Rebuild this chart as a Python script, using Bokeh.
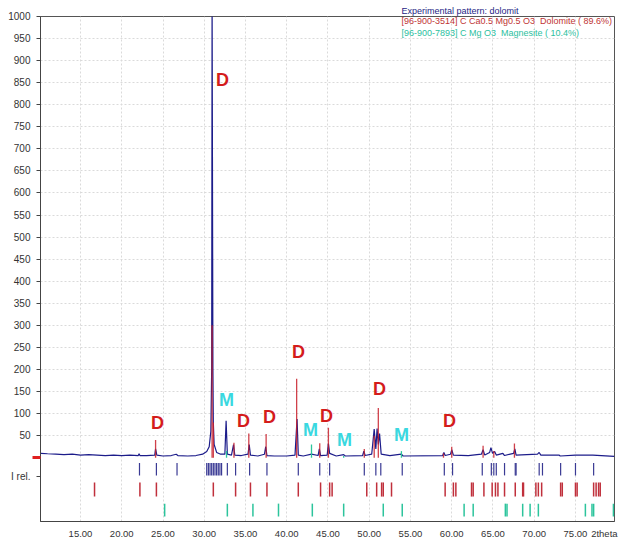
from bokeh.plotting import figure
from bokeh.models import FixedTicker, Label, Range1d, PrintfTickFormatter, ColumnDataSource
from bokeh.embed import file_html
from bokeh.resources import INLINE
from bokeh.core.properties import value

# ---------------- data ----------------
# experimental pattern (2theta, counts)
exp_x = [10.2, 11.0, 12.0, 13.0, 14.0, 15.0, 16.0, 17.0, 18.0, 19.0, 20.0, 21.0, 22.0, 22.1, 22.2,
         23.0, 24.0, 24.1, 24.25, 25.0, 26.0, 26.6, 26.8, 28.0, 29.0, 29.8, 30.3, 30.6, 30.8, 30.9,
         30.95, 31.05, 31.1, 31.2, 31.5, 32.0, 32.5, 32.65, 32.8, 33.3, 33.55, 33.7, 34.5, 35.3,
         35.45, 35.6, 36.5, 37.3, 37.45, 37.6, 38.5, 40.0, 41.0, 41.25, 41.4, 42.0, 43.0, 43.8,
         43.95, 44.1, 44.9, 45.05, 45.2, 46.0, 46.9, 47.1, 49.2, 49.35, 49.5, 50.3, 50.6, 50.8,
         50.95, 51.1, 51.25, 51.45, 52.5, 53.9, 54.1, 58.9, 59.05, 59.2, 59.85, 60.0, 60.2, 62.0,
         63.6, 63.8, 64.0, 64.6, 64.75, 64.95, 65.2, 65.4, 66.2, 66.4, 67.5, 67.65, 67.8, 70.4,
         70.6, 70.8, 73.0, 73.15, 75.0, 77.1, 79.7]
exp_y = [10, 9, 8, 7, 8, 6, 7, 6, 5, 6, 5, 6, 5, 9, 5,
         5, 6, 20, 6, 4, 5, 8, 5, 4, 5, 8, 14, 25, 60, 200,
         1050, 200, 80, 30, 12, 8, 8, 84, 8, 6, 30, 6, 5, 8,
         30, 6, 4, 8, 25, 5, 4, 4, 6, 88, 6, 4, 8, 5,
         20, 5, 6, 32, 10, 4, 7, 4, 5, 15, 5, 8, 65, 20,
         66, 30, 55, 8, 5, 8, 4, 5, 12, 5, 8, 18, 6, 5,
         8, 18, 6, 12, 23, 10, 14, 6, 10, 5, 10, 20, 6, 8,
         12, 6, 6, 4, 6, 6, 3]

# calculated dolomite peaks (position, intensity)
dol_pk_x = [24.1, 30.95, 31.1, 33.6, 35.4, 37.5, 41.2, 44.0, 45.05, 49.4, 50.6, 51.1, 59.0, 60.0,
            63.8, 65.1, 67.6]
dol_pk_y = [40, 300, 80, 34, 55, 54, 179, 33, 68, 20, 50, 113, 10, 25, 27, 15, 32]
# calculated magnesite peaks
mag_pk_x = [32.7, 43.0, 46.9, 53.9]
mag_pk_y = [15, 30, 4, 15]

# reflection positions (tick rows)
exp_lines = [22.15, 24.2, 26.7, 30.3, 30.5, 30.7, 30.9, 31.1, 31.3, 31.5, 31.7, 31.9, 32.1, 32.8,
             33.8, 35.5, 37.6, 41.4, 44.0, 45.2, 49.4, 50.8, 51.4, 54.0, 59.1, 60.1, 63.7, 64.8,
             65.1, 65.4, 66.4, 67.7, 67.8, 70.6, 71.0, 73.2, 75.0, 77.2]
dol_lines = [16.7, 22.2, 24.2, 31.1, 33.8, 35.6, 37.6, 41.4, 44.1, 45.2, 45.5, 49.7, 50.9, 51.5,
             51.7, 52.7, 59.2, 60.2, 60.5, 62.4, 62.6, 63.9, 64.9, 65.3, 65.6, 66.4, 67.7, 68.6,
             68.7, 70.2, 70.5, 70.9, 73.2, 73.4, 75.0, 75.2, 77.2, 77.5, 77.8, 78.0]
mag_lines = [25.2, 32.8, 35.9, 39.0, 43.1, 46.9, 51.7, 54.0, 61.5, 62.6, 66.5, 66.7, 68.6, 69.5,
             70.5, 76.2, 77.0, 77.2, 79.6]

# peak annotations
ann_text = ["D", "D", "M", "D", "D", "D", "M", "D", "M", "D", "M", "D"]
ann_x = [32.21, 24.33, 32.70, 34.76, 37.91, 41.42, 42.88, 44.82, 47.0, 51.24, 53.91, 59.73]
ann_y = [855, 79, 131, 84, 93, 240, 63, 95, 41, 156, 52, 84]

legend_lines = ["Experimental pattern: dolomit",
                "[96-900-3514] C Ca0.5 Mg0.5 O3 \u00a0Dolomite ( 89.6%)",
                "[96-900-7893] C Mg O3 \u00a0Magnesite ( 10.4%)"]

x_ticks = [15, 20, 25, 30, 35, 40, 45, 50, 55, 60, 65, 70, 75]
x_unit_pos = 78.5
x_unit_label = "2theta"
y_ticks = list(range(50, 1001, 50))
y_rel_pos = -43
y_rel_label = "I rel."

# ---------------- styles ----------------
C_EXP = "#1c1c8a"
C_DOL = "#c8202c"
C_MAG = "#2cc49c"
C_D = "#d41c1c"
C_M = "#3ad8e0"
FONT = "Liberation Sans"

p = figure(width=620, height=541, output_backend="svg", toolbar_location=None,
           x_range=Range1d(10.15, 79.73), y_range=Range1d(-144.5, 1000),
           min_border_left=40, min_border_right=6, min_border_top=16, min_border_bottom=19)
p.background_fill_color = "white"
p.border_fill_color = "white"
p.outline_line_color = "#555555"

# title used as first legend line (sits above the frame)
p.title.text = legend_lines[0]
p.title.align = "left"
p.title.offset = 361
p.title.standoff = 1
p.title.text_font = FONT
p.title.text_font_style = "normal"
p.title.text_font_size = "9px"
p.title.text_color = "#1e1e86"

# ticks / grid
p.xaxis.ticker = FixedTicker(ticks=x_ticks + [x_unit_pos])
p.yaxis.ticker = FixedTicker(ticks=[y_rel_pos] + y_ticks, minor_ticks=[0])
p.xgrid.ticker = FixedTicker(ticks=x_ticks)
p.ygrid.ticker = FixedTicker(ticks=y_ticks)
for g in (p.xgrid, p.ygrid):
    g.grid_line_color = "#dadada"
    g.grid_line_dash = "2 2"
    g.grid_line_width = 1

# axes
p.xaxis.formatter = PrintfTickFormatter(format="%.2f")
p.xaxis.major_label_overrides = {x_unit_pos: x_unit_label}
p.yaxis.major_label_overrides = {y_rel_pos: y_rel_label}
for ax in (p.xaxis, p.yaxis):
    ax.axis_line_color = "#444444"
    ax.major_tick_line_color = "#444444"
    ax.major_label_text_color = "#333333"
    ax.major_label_text_font = FONT
p.xaxis.major_label_text_font_size = "9.5px"
p.yaxis.major_label_text_font_size = "10px"
p.xaxis.minor_tick_line_color = None
p.xaxis.major_tick_out = 0
p.xaxis.major_tick_in = 0
p.xaxis.major_label_standoff = 6
p.yaxis.major_tick_out = 4
p.yaxis.major_tick_in = 0
p.yaxis.major_label_standoff = 2
p.yaxis.minor_tick_line_color = "#e02020"
p.yaxis.minor_tick_line_width = 3
p.yaxis.minor_tick_out = 8
p.yaxis.minor_tick_in = 0

# reflection tick rows
p.segment(x0=exp_lines, y0=[-12] * len(exp_lines), x1=exp_lines, y1=[-40] * len(exp_lines),
          line_color="#3a3a94", line_width=1.2)
p.segment(x0=dol_lines, y0=[-56] * len(dol_lines), x1=dol_lines, y1=[-88] * len(dol_lines),
          line_color="#c0303c", line_width=1.5)
p.segment(x0=mag_lines, y0=[-104] * len(mag_lines), x1=mag_lines, y1=[-133] * len(mag_lines),
          line_color=C_MAG, line_width=1.5)

# experimental pattern
p.line(exp_x, exp_y, line_color=C_EXP, line_width=1.2)
# calculated phase peaks
p.segment(x0=dol_pk_x, y0=[0] * len(dol_pk_x), x1=dol_pk_x, y1=dol_pk_y,
          line_color=C_DOL, line_width=1.3, line_alpha=0.85)
p.segment(x0=mag_pk_x, y0=[0] * len(mag_pk_x), x1=mag_pk_x, y1=mag_pk_y,
          line_color=C_MAG, line_width=1.3)

# annotations D / M
src = ColumnDataSource(dict(x=ann_x, y=ann_y, t=ann_text,
                            c=[C_D if t == "D" else C_M for t in ann_text]))
p.text(x="x", y="y", text="t", source=src, text_color="c", text_font=value(FONT),
       text_font_style="bold", text_font_size="18px", text_align="center",
       text_baseline="middle")

# remaining legend lines (inside the frame)
leg_colors = ["#c03434", "#2cc0a0"]
for i, (t, c) in enumerate(zip(legend_lines[1:], leg_colors)):
    p.add_layout(Label(x=53.9, y=1000, text=t, text_color=c, text_font=FONT,
                       text_font_size="9px", text_baseline="middle",
                       y_offset=-4 - 12 * i))

open("out.html", "w").write(file_html(p, INLINE))
